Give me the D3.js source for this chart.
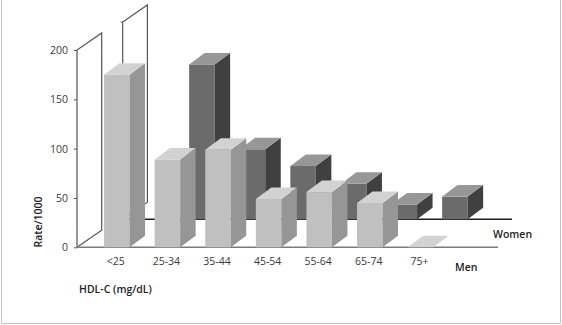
<!DOCTYPE html>
<html>
<head>
<meta charset="utf-8">
<script src="https://cdn.jsdelivr.net/npm/d3@7/dist/d3.min.js"></script>
<style>
  html, body { margin: 0; padding: 0; background: #fff; }
  svg { display: block; font-family: "Open Sans", "Noto Sans", sans-serif; }
</style>
</head>
<body>
<svg id="chart" width="562" height="325"></svg>
<script>
// HDL-C groups and rates per 1000, by sex
const categories = ["<25", "25-34", "35-44", "45-54", "55-64", "65-74", "75+"];
const menRates = [175, 89, 99, 49, 56, 45, 0];
const womenRates = [null, 157, 71, 54, 36, 15, 23];
const yTicks = [0, 50, 100, 150, 200];

const svg = d3.select("#chart");

// Front (men) row geometry
const x = d3.scalePoint().domain(categories).range([116.8, 420.4]);
const y = d3.scaleLinear().domain([0, 200]).range([247.3, 50]);
const barW = 25.5;
const depth = { dx: 15.5, dy: -11.5 };      // bar depth
const wallDepth = { dx: 24.7, dy: -17 };   // side wall depth
const rowShift = { dx: 34.5, dy: -28 };    // women row offset for bars
const wallShift = { dx: 45.7, dy: -28 };   // women row offset for wall

const axisX = 77;

// Frame around the figure
svg.append("path")
  .attr("d", "M1.5,0 V323.5 H560.5 V0")
  .attr("fill", "none").attr("stroke", "#c4c4c4").attr("stroke-width", 1);

function wall(g, x0, yScale, color) {
  const top = yScale(200), bot = yScale(0);
  const p = `M${x0},${bot} V${top} l${wallDepth.dx},${wallDepth.dy} V${bot + wallDepth.dy} L${x0},${bot}`;
  g.append("path").attr("d", p).attr("fill", "none")
    .attr("stroke", color).attr("stroke-width", 1.2);
}

function bar(g, cx, yBase, val, colors) {
  const x0 = cx - barW / 2, x1 = cx + barW / 2;
  const yt = yBase - (y(0) - y(val));
  const { dx, dy } = depth;
  if (val > 0) {
    g.append("rect").attr("x", x0).attr("y", yt).attr("width", barW)
      .attr("height", yBase - yt).attr("fill", colors.front);
    g.append("path")
      .attr("d", `M${x1},${yt} l${dx},${dy} V${yBase + dy} L${x1},${yBase} Z`)
      .attr("fill", colors.side);
  }
  g.append("path")
    .attr("d", `M${x0},${yt} L${x1},${yt} l${dx},${dy} L${x0 + dx},${yt + dy} Z`)
    .attr("fill", colors.top);
}

// ---- Women row (back) ----
const yW = d3.scaleLinear().domain(y.domain()).range(y.range().map(v => v + wallShift.dy));
const back = svg.append("g");
wall(back, axisX + wallShift.dx, yW, "#555");
back.append("line")
  .attr("x1", axisX + wallShift.dx - 2).attr("x2", axisX + wallShift.dx)
  .attr("y1", yW(200)).attr("y2", yW(200)).attr("stroke", "#555");
back.append("line")
  .attr("x1", axisX + wallShift.dx).attr("x2", 512)
  .attr("y1", yW(0)).attr("y2", yW(0))
  .attr("stroke", "#1e1e1e").attr("stroke-width", 1.5);

const womenColors = { front: "#6b6b6b", side: "#404040", top: "#979797" };
categories.forEach((c, i) => {
  if (womenRates[i] == null) return;
  bar(back, x(c) + rowShift.dx, yW(0), womenRates[i], womenColors);
});

// ---- Men row (front) ----
const front = svg.append("g");
wall(front, axisX, y, "#555");
front.append("line")
  .attr("x1", axisX).attr("x2", 498)
  .attr("y1", y(0)).attr("y2", y(0))
  .attr("stroke", "#7a7a7a").attr("stroke-width", 1.5);

const yAxis = front.append("g")
  .attr("transform", `translate(${axisX},0)`)
  .call(d3.axisLeft(y).tickValues(yTicks).tickSize(3).tickSizeOuter(0).tickPadding(6));
yAxis.select(".domain").remove();
yAxis.selectAll("line").attr("stroke", "#555");
yAxis.selectAll("text").attr("fill", "#3a3a3a")
  .style("font-size", "10.5px").style("font-family", "'Open Sans', sans-serif");

const menColors = { front: "#c0c0c0", side: "#969696", top: "#d2d2d2" };
categories.forEach((c, i) => {
  bar(front, x(c), y(0), menRates[i], menColors);
});

// Category labels
svg.append("g").selectAll("text").data(categories).join("text")
  .attr("x", d => x(d) - 1).attr("y", 265)
  .attr("text-anchor", "middle")
  .attr("fill", "#3a3a3a").style("font-size", "10.5px")
  .text(d => d);

// Titles
const bold = { "font-size": "10.5px", "font-weight": "600" };
function label(txt, xx, yy, anchor, rot) {
  const t = svg.append("text").attr("x", xx).attr("y", yy)
    .attr("text-anchor", anchor).attr("fill", "#222")
    .style("font-size", bold["font-size"]).style("font-weight", bold["font-weight"])
    .text(txt);
  if (rot) t.attr("transform", `rotate(${rot},${xx},${yy})`);
  return t;
}
label("Rate/1000", 41.5, 222, "middle", -90);
label("HDL-C (mg/dL)", 79, 293, "start");
label("Women", 493, 238, "start");
label("Men", 455, 271, "start");
</script>
</body>
</html>
